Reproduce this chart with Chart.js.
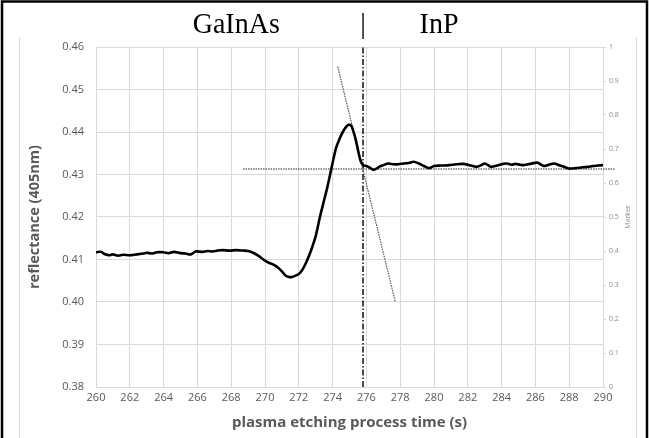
<!DOCTYPE html>
<html>
<head>
<meta charset="utf-8">
<script src="https://cdn.jsdelivr.net/npm/chart.js@4.4.1/dist/chart.umd.min.js"></script>
<style>
  html, body { margin: 0; padding: 0; background: #fff; }
  #wrap { position: relative; width: 649px; height: 438px; }
</style>
</head>
<body>
<div id="wrap"><canvas id="etchChart" width="649" height="438"></canvas></div>
<script>
// reflectance trace
const times = [260.0, 260.3, 260.5, 260.8, 261.0, 261.3, 261.6, 262.0, 262.4, 262.8, 263.0, 263.3, 263.6, 264.0, 264.3, 264.6, 265.0, 265.3, 265.6, 265.9, 266.3, 266.6, 266.9, 267.2, 267.5, 267.9, 268.3, 268.7, 269.0, 269.3, 269.6, 269.9, 270.2, 270.5, 270.8, 271.0, 271.2, 271.4, 271.6, 271.8, 272.0, 272.2, 272.4, 272.6, 272.8, 273.0, 273.25, 273.5, 273.7, 273.95, 274.2, 274.4, 274.6, 274.8, 274.95, 275.1, 275.2, 275.35, 275.5, 275.65, 275.8, 276.0, 276.2, 276.4, 276.6, 276.8, 277.0, 277.3, 277.6, 277.9, 278.2, 278.5, 278.8, 279.1, 279.4, 279.7, 280.0, 280.4, 280.9, 281.3, 281.7, 282.1, 282.5, 282.8, 283.0, 283.2, 283.4, 283.8, 284.1, 284.3, 284.6, 284.8, 285.1, 285.3, 285.7, 286.1, 286.3, 286.5, 286.8, 287.1, 287.4, 287.7, 288.0, 288.4, 288.8, 289.1, 289.4, 289.7, 290.0];
const reflectance = [0.4117, 0.4118, 0.4113, 0.4110, 0.4112, 0.4109, 0.4111, 0.4110, 0.4112, 0.4114, 0.4116, 0.4114, 0.4117, 0.4117, 0.4115, 0.4118, 0.4115, 0.4114, 0.4112, 0.4119, 0.4118, 0.4120, 0.4119, 0.4121, 0.4122, 0.4121, 0.4122, 0.4121, 0.4120, 0.4116, 0.4109, 0.4100, 0.4093, 0.4088, 0.4080, 0.4072, 0.4063, 0.4059, 0.4059, 0.4062, 0.4066, 0.4075, 0.4090, 0.4108, 0.4130, 0.4155, 0.4200, 0.4240, 0.4272, 0.4318, 0.4362, 0.4383, 0.4400, 0.4412, 0.4417, 0.4415, 0.4405, 0.4385, 0.4358, 0.4333, 0.4322, 0.4320, 0.4316, 0.4311, 0.4314, 0.4319, 0.4322, 0.4326, 0.4324, 0.4324, 0.4326, 0.4327, 0.4330, 0.4326, 0.4320, 0.4315, 0.4320, 0.4321, 0.4322, 0.4324, 0.4325, 0.4322, 0.4318, 0.4322, 0.4326, 0.4322, 0.4318, 0.4322, 0.4325, 0.4326, 0.4323, 0.4325, 0.4323, 0.4322, 0.4325, 0.4328, 0.4324, 0.4320, 0.4323, 0.4326, 0.4322, 0.4318, 0.4314, 0.4315, 0.4317, 0.4318, 0.4320, 0.4321, 0.4322];

// helper lines
const baseTime = [268.7, 290.7];
const baseLevel = [0.4313, 0.4313];
const slopeTime = [274.3, 277.7];
const slopeLevel = [0.4554, 0.4002];
const markerTime = [275.8, 275.8];
const markerLevel = [0, 1];

// labels above the plot: [text, time position]
const layerLabels = [['GaInAs', 268.3], ['|', 275.8], ['InP', 280.3]];

const xMin = 260, xMax = 290, xStep = 2;
const yMin = 0.38, yMax = 0.46, yStep = 0.01;
const y2Min = 0, y2Max = 1, y2Step = 0.1;

function toPoints(xs, ys) {
    return xs.map((x, i) => ({ x: x, y: ys[i] }));
}

const frame = {
    id: 'frame',
    afterDraw(chart) {
        const ctx = chart.ctx;
        const xs = chart.scales.x;
        const y2 = chart.scales.y2;
        ctx.save();
        // light chart-area border
        ctx.strokeStyle = '#d9d9d9';
        ctx.lineWidth = 1;
        ctx.beginPath();
        ctx.moveTo(19.5, 37); ctx.lineTo(19.5, 438);
        ctx.moveTo(636.5, 37); ctx.lineTo(636.5, 438);
        ctx.stroke();
        // black outer border
        ctx.strokeStyle = '#000';
        ctx.lineWidth = 2.5;
        ctx.beginPath();
        ctx.moveTo(2, 438); ctx.lineTo(2, 1.5); ctx.lineTo(647, 1.5); ctx.lineTo(647, 438);
        ctx.stroke();
        // secondary axis title, reading upward
        ctx.save();
        ctx.fillStyle = '#8c8c8c';
        ctx.font = '7px "Open Sans"';
        ctx.textAlign = 'center';
        ctx.textBaseline = 'middle';
        ctx.translate(628, (y2.top + y2.bottom) / 2);
        ctx.rotate(-Math.PI / 2);
        ctx.fillText('Marker', 0, 0);
        ctx.restore();
        // layer names
        ctx.fillStyle = '#000';
        ctx.font = '28px "Liberation Serif"';
        ctx.textAlign = 'center';
        ctx.textBaseline = 'alphabetic';
        layerLabels.forEach(([txt, t]) => {
            const px = xs.getPixelForValue(t);
            ctx.save();
            ctx.translate(px, 33);
            ctx.scale(1, 1.08);
            ctx.fillText(txt, 0, 0);
            ctx.restore();
        });
        ctx.restore();
    }
};

const ctx = document.getElementById('etchChart');
new Chart(ctx, {
    type: 'scatter',
    data: {
        datasets: [
            {
                label: 'reflectance',
                data: toPoints(times, reflectance),
                showLine: true,
                borderColor: '#000',
                borderWidth: 2.6,
                pointRadius: 0,
                tension: 0.3,
                yAxisID: 'y'
            },
            {
                label: 'baseline',
                data: toPoints(baseTime, baseLevel),
                showLine: true,
                borderColor: '#222',
                borderWidth: 1.2,
                borderDash: [1.5, 1],
                pointRadius: 0,
                clip: false,
                yAxisID: 'y'
            },
            {
                label: 'slope',
                data: toPoints(slopeTime, slopeLevel),
                showLine: true,
                borderColor: '#555',
                borderWidth: 1.2,
                borderDash: [1.5, 1],
                pointRadius: 0,
                yAxisID: 'y'
            },
            {
                label: 'Marker',
                data: toPoints(markerTime, markerLevel),
                showLine: true,
                borderColor: '#000',
                borderWidth: 1.4,
                borderDash: [6, 2, 1.5, 2],
                pointRadius: 0,
                yAxisID: 'y2'
            }
        ]
    },
    options: {
        responsive: false,
        animation: false,
        layout: { padding: { top: 47, left: 0, right: 0, bottom: 0 } },
        plugins: {
            legend: { display: false },
            tooltip: { enabled: false }
        },
        scales: {
            x: {
                type: 'linear',
                min: xMin,
                max: xMax,
                afterFit: function(scale) { scale.height = 51; },
                ticks: {
                    stepSize: xStep,
                    color: '#595959',
                    font: { family: 'Open Sans', size: 11 },
                    padding: 4,
                    maxRotation: 0
                },
                grid: { color: '#d9d9d9', drawTicks: false },
                border: { color: '#d9d9d9' },
                title: {
                    display: true,
                    text: 'plasma etching process time (s)',
                    color: '#595959',
                    font: { family: 'Open Sans', size: 15, weight: 'bold' },
                    padding: { top: 0, bottom: 6 }
                }
            },
            y: {
                type: 'linear',
                position: 'left',
                min: yMin,
                max: yMax,
                afterFit: function(scale) { scale.width = 96; },
                ticks: {
                    stepSize: yStep,
                    color: '#595959',
                    font: { family: 'Open Sans', size: 11 },
                    padding: 12,
                    callback: function(value) { return value.toFixed(2); }
                },
                grid: { color: '#d9d9d9', drawTicks: false },
                border: { color: '#d9d9d9' },
                title: {
                    display: true,
                    text: 'reflectance (405nm)',
                    color: '#595959',
                    font: { family: 'Open Sans', size: 14.5, weight: 'bold' },
                    padding: { top: 26, bottom: 0 }
                }
            },
            y2: {
                type: 'linear',
                position: 'right',
                min: y2Min,
                max: y2Max,
                afterFit: function(scale) { scale.width = 46; },
                ticks: {
                    stepSize: y2Step,
                    color: '#8c8c8c',
                    font: { family: 'Open Sans', size: 7 },
                    padding: 3,
                    callback: function(value) { return String(Math.round(value * 10) / 10); }
                },
                grid: { drawOnChartArea: false, drawTicks: true, tickLength: 3, color: '#d9d9d9' },
                border: { color: '#d9d9d9' },
                title: { display: false }
            }
        }
    },
    plugins: [frame]
});
</script>
</body>
</html>
